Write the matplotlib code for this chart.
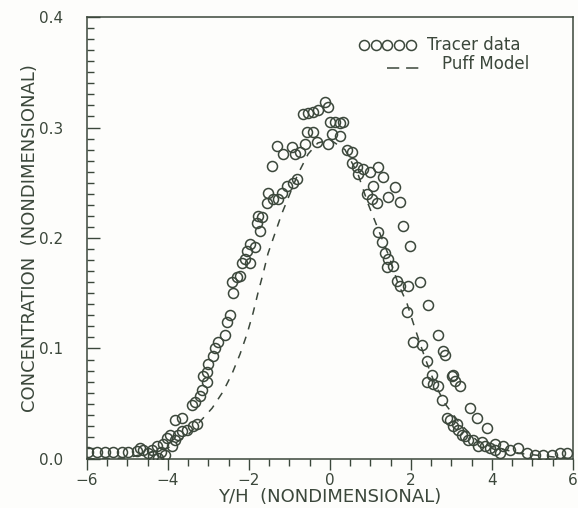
import matplotlib
matplotlib.use("Agg")
import matplotlib.pyplot as plt
from matplotlib.ticker import MultipleLocator

# ---------- data ----------
tracer_x = [
    -5.98, -5.75, -5.56, -5.36, -5.14, -4.99, -4.77, -4.62, -4.69, -4.49,
    -4.37, -4.25, -4.27, -4.12, -4.02, -3.95, -3.83, -3.75, -3.65, -3.53,
    -3.38, -3.28, -3.83, -3.65, -3.41, -3.33, -3.21, -3.16, -3.04, -4.07,
    -4.40, -4.18, -3.90,
    -3.14, -3.04, -3.01, -2.89, -2.84, -2.77, -2.59, -2.54, -2.47, -2.40,
    -2.42, -2.30, -2.22, -2.17, -2.10, -1.98, -2.05, -1.98, -1.85, -1.73,
    -1.80, -1.68, -1.78, -1.56, -1.41, -1.28, -1.19, -1.06, -0.91, -0.81,
    -1.53, -1.43, -1.31, -1.16, -0.94, -0.86, -0.74, -0.62, -0.57, -0.42,
    -0.32, -0.67, -0.54, -0.42, -0.30, -0.12, -0.05, 0.00, 0.12, 0.25,
    0.32, 0.05, -0.05, 0.25, 0.42, 0.54, 0.54, 0.67, 0.81, 0.69,
    0.99, 1.19, 1.31, 1.06, 0.91, 1.04, 1.16, 1.43, 1.60, 1.73,
    1.80, 1.19, 1.28, 1.98, 1.36, 1.43, 1.41, 1.56, 1.65, 1.73,
    1.93, 2.22, 2.42, 1.90, 2.05, 2.27, 2.67, 2.79, 2.84, 2.40,
    2.52, 3.04, 2.40, 2.54, 2.67, 3.01, 3.09, 3.21, 2.77, 2.89,
    2.96, 3.14, 3.04, 3.16, 3.26, 3.33, 3.46, 3.63, 3.88, 3.41,
    3.53, 3.65, 3.83, 4.07, 4.07, 4.27, 4.44, 4.64, 4.86, 5.06,
    5.26, 5.48, 5.68, 5.85, 4.20, 3.95, 3.75,
]
tracer_y = [
    0.006, 0.006, 0.006, 0.006, 0.006, 0.006, 0.007, 0.008, 0.010, 0.005,
    0.003, 0.001, 0.012, 0.014, 0.019, 0.022, 0.017, 0.022, 0.025, 0.026,
    0.030, 0.032, 0.035, 0.037, 0.049, 0.052, 0.057, 0.062, 0.070, 0.004,
    0.008, 0.006, 0.012,
    0.075, 0.079, 0.086, 0.093, 0.100, 0.106, 0.112, 0.124, 0.130, 0.150,
    0.160, 0.165, 0.166, 0.177, 0.181, 0.177, 0.188, 0.195, 0.192, 0.206,
    0.214, 0.219, 0.220, 0.232, 0.235, 0.235, 0.241, 0.247, 0.250, 0.253,
    0.241, 0.265, 0.283, 0.276, 0.282, 0.276, 0.278, 0.285, 0.296, 0.296,
    0.287, 0.312, 0.313, 0.314, 0.316, 0.323, 0.319, 0.305, 0.305, 0.304,
    0.305, 0.294, 0.285, 0.292, 0.280, 0.278, 0.268, 0.264, 0.262, 0.258,
    0.260, 0.264, 0.255, 0.247, 0.240, 0.235, 0.232, 0.237, 0.246, 0.233,
    0.211, 0.205, 0.196, 0.193, 0.186, 0.181, 0.174, 0.175, 0.161, 0.157,
    0.157, 0.160, 0.139, 0.133, 0.106, 0.103, 0.112, 0.098, 0.094, 0.089,
    0.076, 0.076, 0.070, 0.068, 0.066, 0.075, 0.071, 0.066, 0.053, 0.037,
    0.035, 0.032, 0.030, 0.026, 0.022, 0.021, 0.046, 0.037, 0.028, 0.017,
    0.017, 0.012, 0.012, 0.014, 0.008, 0.012, 0.008, 0.010, 0.005, 0.004,
    0.004, 0.004, 0.005, 0.005, 0.005, 0.010, 0.015,
]

model_x = [-6.0, -5.0, -4.0, -3.5, -2.91, -2.64, -2.42, -2.22, -2.05, -1.90,
           -1.78, -1.65, -1.53, -1.36, -1.19, -0.99, -0.79, -0.54, -0.30, 0.0,
           0.37, 0.69, 0.94, 1.19, 1.43, 1.68, 1.90, 2.10, 2.35, 2.59,
           2.84, 3.21, 3.70, 4.69, 6.0]
model_y = [0.0, 0.001, 0.010, 0.022, 0.046, 0.061, 0.077, 0.095, 0.113, 0.132,
           0.150, 0.168, 0.186, 0.204, 0.222, 0.240, 0.258, 0.276, 0.286, 0.289,
           0.280, 0.258, 0.231, 0.208, 0.186, 0.159, 0.141, 0.118, 0.091, 0.068,
           0.050, 0.032, 0.014, 0.005, 0.0]

x_ticks = [-6, -4, -2, 0, 2, 4, 6]
x_ticklabels = ["\u22126", "\u22124", "\u22122", "0", "2", "4", "6"]
y_ticks = [0.0, 0.1, 0.2, 0.3, 0.4]
y_ticklabels = ["0.0", "0.1", "0.2", "0.3", "0.4"]

ink = "#3b473b"
paper = "#fdfdfb"

fig = plt.figure(figsize=(5.78, 5.08), dpi=100, facecolor=paper)
ax = fig.add_axes([0.1505, 0.0965, 0.8408, 0.870])
ax.set_facecolor(paper)

ax.plot(tracer_x, tracer_y, linestyle="none", marker="o", ms=7.2,
        mfc="none", mec=ink, mew=1.1)
ax.plot(model_x, model_y, linestyle=(0, (5, 5)), color=ink, lw=1.1)

ax.set_xlim(-6, 6)
ax.set_ylim(0, 0.4)

for s in ax.spines.values():
    s.set_color(ink)
    s.set_linewidth(1.1)

ax.set_xticks(x_ticks)
ax.set_xticklabels(x_ticklabels)
ax.set_yticks(y_ticks)
ax.set_yticklabels(y_ticklabels)
ax.xaxis.set_minor_locator(MultipleLocator(0.5))
ax.yaxis.set_minor_locator(MultipleLocator(0.01))
ax.tick_params(axis="x", which="both", direction="out", colors=ink,
               labelsize=11, pad=2)
ax.tick_params(axis="x", which="major", length=8, width=1.0)
ax.tick_params(axis="x", which="minor", length=5, width=1.0)
ax.tick_params(axis="y", which="both", direction="in", colors=ink,
               labelsize=11, pad=17)
ax.tick_params(axis="y", which="major", length=9, width=1.0)
ax.tick_params(axis="y", which="minor", length=5, width=1.0)

ax.set_xlabel("Y/H  (NONDIMENSIONAL)", fontsize=13, color=ink, labelpad=0)
ax.set_ylabel("CONCENTRATION  (NONDIMENSIONAL)", fontsize=13, color=ink,
              labelpad=0)

# hand-drawn legend, like the original plotter output
ax.plot([0.570, 0.594, 0.618, 0.642, 0.666], [0.937] * 5,
        transform=ax.transAxes, linestyle="none", marker="o", ms=7.2,
        mfc="none", mec=ink, mew=1.1, clip_on=False)
ax.text(0.700, 0.937, "Tracer data", transform=ax.transAxes, fontsize=12,
        color=ink, va="center", ha="left")
ax.plot([0.618, 0.684], [0.885, 0.885], transform=ax.transAxes,
        linestyle=(0, (8, 4.5)), color=ink, lw=1.1)
ax.text(0.730, 0.893, "Puff Model", transform=ax.transAxes, fontsize=12,
        color=ink, va="center", ha="left")

fig.savefig("out.png", dpi=100, facecolor=fig.get_facecolor())
